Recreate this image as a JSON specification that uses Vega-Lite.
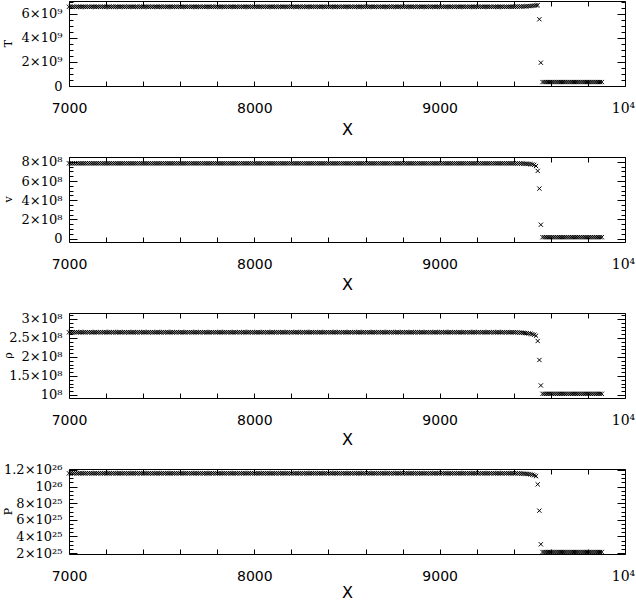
{
"$schema":"https://vega.github.io/schema/vega-lite/v6.json",
"padding":{"left":1,"top":0,"right":0,"bottom":0},
"spacing":71,
"bounds":"flush",
"config":{"view":{"stroke":"black","strokeWidth":1},"axis":{"domain":false,"grid":false,"tickColor":"black","tickWidth":1,"labelColor":"black","titleColor":"black"}},
"data":{"values":[
{"x":7000,"T":6.6e9,"v":7.84e8,"r":2.65e8,"P":1.16e26},{"x":7010,"T":6.6e9,"v":7.84e8,"r":2.65e8,"P":1.16e26},{"x":7020,"T":6.6e9,"v":7.84e8,"r":2.65e8,"P":1.16e26},{"x":7030,"T":6.6e9,"v":7.84e8,"r":2.65e8,"P":1.16e26},{"x":7040,"T":6.6e9,"v":7.84e8,"r":2.65e8,"P":1.16e26},{"x":7050,"T":6.6e9,"v":7.84e8,"r":2.65e8,"P":1.16e26},{"x":7060,"T":6.6e9,"v":7.84e8,"r":2.65e8,"P":1.16e26},{"x":7070,"T":6.6e9,"v":7.84e8,"r":2.65e8,"P":1.16e26},{"x":7080,"T":6.6e9,"v":7.84e8,"r":2.65e8,"P":1.16e26},{"x":7090,"T":6.6e9,"v":7.84e8,"r":2.65e8,"P":1.16e26},
{"x":7100,"T":6.6e9,"v":7.84e8,"r":2.65e8,"P":1.16e26},{"x":7110,"T":6.6e9,"v":7.84e8,"r":2.65e8,"P":1.16e26},{"x":7120,"T":6.6e9,"v":7.84e8,"r":2.65e8,"P":1.16e26},{"x":7130,"T":6.6e9,"v":7.84e8,"r":2.65e8,"P":1.16e26},{"x":7140,"T":6.6e9,"v":7.84e8,"r":2.65e8,"P":1.16e26},{"x":7150,"T":6.6e9,"v":7.84e8,"r":2.65e8,"P":1.16e26},{"x":7160,"T":6.6e9,"v":7.84e8,"r":2.65e8,"P":1.16e26},{"x":7170,"T":6.6e9,"v":7.84e8,"r":2.65e8,"P":1.16e26},{"x":7180,"T":6.6e9,"v":7.84e8,"r":2.65e8,"P":1.16e26},{"x":7190,"T":6.6e9,"v":7.84e8,"r":2.65e8,"P":1.16e26},
{"x":7200,"T":6.6e9,"v":7.84e8,"r":2.65e8,"P":1.16e26},{"x":7210,"T":6.6e9,"v":7.84e8,"r":2.65e8,"P":1.16e26},{"x":7220,"T":6.6e9,"v":7.84e8,"r":2.65e8,"P":1.16e26},{"x":7230,"T":6.6e9,"v":7.84e8,"r":2.65e8,"P":1.16e26},{"x":7240,"T":6.6e9,"v":7.84e8,"r":2.65e8,"P":1.16e26},{"x":7250,"T":6.6e9,"v":7.84e8,"r":2.65e8,"P":1.16e26},{"x":7260,"T":6.6e9,"v":7.84e8,"r":2.65e8,"P":1.16e26},{"x":7270,"T":6.6e9,"v":7.84e8,"r":2.65e8,"P":1.16e26},{"x":7280,"T":6.6e9,"v":7.84e8,"r":2.65e8,"P":1.16e26},{"x":7290,"T":6.6e9,"v":7.84e8,"r":2.65e8,"P":1.16e26},
{"x":7300,"T":6.6e9,"v":7.84e8,"r":2.65e8,"P":1.16e26},{"x":7310,"T":6.6e9,"v":7.84e8,"r":2.65e8,"P":1.16e26},{"x":7320,"T":6.6e9,"v":7.84e8,"r":2.65e8,"P":1.16e26},{"x":7330,"T":6.6e9,"v":7.84e8,"r":2.65e8,"P":1.16e26},{"x":7340,"T":6.6e9,"v":7.84e8,"r":2.65e8,"P":1.16e26},{"x":7350,"T":6.6e9,"v":7.84e8,"r":2.65e8,"P":1.16e26},{"x":7360,"T":6.6e9,"v":7.84e8,"r":2.65e8,"P":1.16e26},{"x":7370,"T":6.6e9,"v":7.84e8,"r":2.65e8,"P":1.16e26},{"x":7380,"T":6.6e9,"v":7.84e8,"r":2.65e8,"P":1.16e26},{"x":7390,"T":6.6e9,"v":7.84e8,"r":2.65e8,"P":1.16e26},
{"x":7400,"T":6.6e9,"v":7.84e8,"r":2.65e8,"P":1.16e26},{"x":7410,"T":6.6e9,"v":7.84e8,"r":2.65e8,"P":1.16e26},{"x":7420,"T":6.6e9,"v":7.84e8,"r":2.65e8,"P":1.16e26},{"x":7430,"T":6.6e9,"v":7.84e8,"r":2.65e8,"P":1.16e26},{"x":7440,"T":6.6e9,"v":7.84e8,"r":2.65e8,"P":1.16e26},{"x":7450,"T":6.6e9,"v":7.84e8,"r":2.65e8,"P":1.16e26},{"x":7460,"T":6.6e9,"v":7.84e8,"r":2.65e8,"P":1.16e26},{"x":7470,"T":6.6e9,"v":7.84e8,"r":2.65e8,"P":1.16e26},{"x":7480,"T":6.6e9,"v":7.84e8,"r":2.65e8,"P":1.16e26},{"x":7490,"T":6.6e9,"v":7.84e8,"r":2.65e8,"P":1.16e26},
{"x":7500,"T":6.6e9,"v":7.84e8,"r":2.65e8,"P":1.16e26},{"x":7510,"T":6.6e9,"v":7.84e8,"r":2.65e8,"P":1.16e26},{"x":7520,"T":6.6e9,"v":7.84e8,"r":2.65e8,"P":1.16e26},{"x":7530,"T":6.6e9,"v":7.84e8,"r":2.65e8,"P":1.16e26},{"x":7540,"T":6.6e9,"v":7.84e8,"r":2.65e8,"P":1.16e26},{"x":7550,"T":6.6e9,"v":7.84e8,"r":2.65e8,"P":1.16e26},{"x":7560,"T":6.6e9,"v":7.84e8,"r":2.65e8,"P":1.16e26},{"x":7570,"T":6.6e9,"v":7.84e8,"r":2.65e8,"P":1.16e26},{"x":7580,"T":6.6e9,"v":7.84e8,"r":2.65e8,"P":1.16e26},{"x":7590,"T":6.6e9,"v":7.84e8,"r":2.65e8,"P":1.16e26},
{"x":7600,"T":6.6e9,"v":7.84e8,"r":2.65e8,"P":1.16e26},{"x":7610,"T":6.6e9,"v":7.84e8,"r":2.65e8,"P":1.16e26},{"x":7620,"T":6.6e9,"v":7.84e8,"r":2.65e8,"P":1.16e26},{"x":7630,"T":6.6e9,"v":7.84e8,"r":2.65e8,"P":1.16e26},{"x":7640,"T":6.6e9,"v":7.84e8,"r":2.65e8,"P":1.16e26},{"x":7650,"T":6.6e9,"v":7.84e8,"r":2.65e8,"P":1.16e26},{"x":7660,"T":6.6e9,"v":7.84e8,"r":2.65e8,"P":1.16e26},{"x":7670,"T":6.6e9,"v":7.84e8,"r":2.65e8,"P":1.16e26},{"x":7680,"T":6.6e9,"v":7.84e8,"r":2.65e8,"P":1.16e26},{"x":7690,"T":6.6e9,"v":7.84e8,"r":2.65e8,"P":1.16e26},
{"x":7700,"T":6.6e9,"v":7.84e8,"r":2.65e8,"P":1.16e26},{"x":7710,"T":6.6e9,"v":7.84e8,"r":2.65e8,"P":1.16e26},{"x":7720,"T":6.6e9,"v":7.84e8,"r":2.65e8,"P":1.16e26},{"x":7730,"T":6.6e9,"v":7.84e8,"r":2.65e8,"P":1.16e26},{"x":7740,"T":6.6e9,"v":7.84e8,"r":2.65e8,"P":1.16e26},{"x":7750,"T":6.6e9,"v":7.84e8,"r":2.65e8,"P":1.16e26},{"x":7760,"T":6.6e9,"v":7.84e8,"r":2.65e8,"P":1.16e26},{"x":7770,"T":6.6e9,"v":7.84e8,"r":2.65e8,"P":1.16e26},{"x":7780,"T":6.6e9,"v":7.84e8,"r":2.65e8,"P":1.16e26},{"x":7790,"T":6.6e9,"v":7.84e8,"r":2.65e8,"P":1.16e26},
{"x":7800,"T":6.6e9,"v":7.84e8,"r":2.65e8,"P":1.16e26},{"x":7810,"T":6.6e9,"v":7.84e8,"r":2.65e8,"P":1.16e26},{"x":7820,"T":6.6e9,"v":7.84e8,"r":2.65e8,"P":1.16e26},{"x":7830,"T":6.6e9,"v":7.84e8,"r":2.65e8,"P":1.16e26},{"x":7840,"T":6.6e9,"v":7.84e8,"r":2.65e8,"P":1.16e26},{"x":7850,"T":6.6e9,"v":7.84e8,"r":2.65e8,"P":1.16e26},{"x":7860,"T":6.6e9,"v":7.84e8,"r":2.65e8,"P":1.16e26},{"x":7870,"T":6.6e9,"v":7.84e8,"r":2.65e8,"P":1.16e26},{"x":7880,"T":6.6e9,"v":7.84e8,"r":2.65e8,"P":1.16e26},{"x":7890,"T":6.6e9,"v":7.84e8,"r":2.65e8,"P":1.16e26},
{"x":7900,"T":6.6e9,"v":7.84e8,"r":2.65e8,"P":1.16e26},{"x":7910,"T":6.6e9,"v":7.84e8,"r":2.65e8,"P":1.16e26},{"x":7920,"T":6.6e9,"v":7.84e8,"r":2.65e8,"P":1.16e26},{"x":7930,"T":6.6e9,"v":7.84e8,"r":2.65e8,"P":1.16e26},{"x":7940,"T":6.6e9,"v":7.84e8,"r":2.65e8,"P":1.16e26},{"x":7950,"T":6.6e9,"v":7.84e8,"r":2.65e8,"P":1.16e26},{"x":7960,"T":6.6e9,"v":7.84e8,"r":2.65e8,"P":1.16e26},{"x":7970,"T":6.6e9,"v":7.84e8,"r":2.65e8,"P":1.16e26},{"x":7980,"T":6.6e9,"v":7.84e8,"r":2.65e8,"P":1.16e26},{"x":7990,"T":6.6e9,"v":7.84e8,"r":2.65e8,"P":1.16e26},
{"x":8000,"T":6.6e9,"v":7.84e8,"r":2.65e8,"P":1.16e26},{"x":8010,"T":6.6e9,"v":7.84e8,"r":2.65e8,"P":1.16e26},{"x":8020,"T":6.6e9,"v":7.84e8,"r":2.65e8,"P":1.16e26},{"x":8030,"T":6.6e9,"v":7.84e8,"r":2.65e8,"P":1.16e26},{"x":8040,"T":6.6e9,"v":7.84e8,"r":2.65e8,"P":1.16e26},{"x":8050,"T":6.6e9,"v":7.84e8,"r":2.65e8,"P":1.16e26},{"x":8060,"T":6.6e9,"v":7.84e8,"r":2.65e8,"P":1.16e26},{"x":8070,"T":6.6e9,"v":7.84e8,"r":2.65e8,"P":1.16e26},{"x":8080,"T":6.6e9,"v":7.84e8,"r":2.65e8,"P":1.16e26},{"x":8090,"T":6.6e9,"v":7.84e8,"r":2.65e8,"P":1.16e26},
{"x":8100,"T":6.6e9,"v":7.84e8,"r":2.65e8,"P":1.16e26},{"x":8110,"T":6.6e9,"v":7.84e8,"r":2.65e8,"P":1.16e26},{"x":8120,"T":6.6e9,"v":7.84e8,"r":2.65e8,"P":1.16e26},{"x":8130,"T":6.6e9,"v":7.84e8,"r":2.65e8,"P":1.16e26},{"x":8140,"T":6.6e9,"v":7.84e8,"r":2.65e8,"P":1.16e26},{"x":8150,"T":6.6e9,"v":7.84e8,"r":2.65e8,"P":1.16e26},{"x":8160,"T":6.6e9,"v":7.84e8,"r":2.65e8,"P":1.16e26},{"x":8170,"T":6.6e9,"v":7.84e8,"r":2.65e8,"P":1.16e26},{"x":8180,"T":6.6e9,"v":7.84e8,"r":2.65e8,"P":1.16e26},{"x":8190,"T":6.6e9,"v":7.84e8,"r":2.65e8,"P":1.16e26},
{"x":8200,"T":6.6e9,"v":7.84e8,"r":2.65e8,"P":1.16e26},{"x":8210,"T":6.6e9,"v":7.84e8,"r":2.65e8,"P":1.16e26},{"x":8220,"T":6.6e9,"v":7.84e8,"r":2.65e8,"P":1.16e26},{"x":8230,"T":6.6e9,"v":7.84e8,"r":2.65e8,"P":1.16e26},{"x":8240,"T":6.6e9,"v":7.84e8,"r":2.65e8,"P":1.16e26},{"x":8250,"T":6.6e9,"v":7.84e8,"r":2.65e8,"P":1.16e26},{"x":8260,"T":6.6e9,"v":7.84e8,"r":2.65e8,"P":1.16e26},{"x":8270,"T":6.6e9,"v":7.84e8,"r":2.65e8,"P":1.16e26},{"x":8280,"T":6.6e9,"v":7.84e8,"r":2.65e8,"P":1.16e26},{"x":8290,"T":6.6e9,"v":7.84e8,"r":2.65e8,"P":1.16e26},
{"x":8300,"T":6.6e9,"v":7.84e8,"r":2.65e8,"P":1.16e26},{"x":8310,"T":6.6e9,"v":7.84e8,"r":2.65e8,"P":1.16e26},{"x":8320,"T":6.6e9,"v":7.84e8,"r":2.65e8,"P":1.16e26},{"x":8330,"T":6.6e9,"v":7.84e8,"r":2.65e8,"P":1.16e26},{"x":8340,"T":6.6e9,"v":7.84e8,"r":2.65e8,"P":1.16e26},{"x":8350,"T":6.6e9,"v":7.84e8,"r":2.65e8,"P":1.16e26},{"x":8360,"T":6.6e9,"v":7.84e8,"r":2.65e8,"P":1.16e26},{"x":8370,"T":6.6e9,"v":7.84e8,"r":2.65e8,"P":1.16e26},{"x":8380,"T":6.6e9,"v":7.84e8,"r":2.65e8,"P":1.16e26},{"x":8390,"T":6.6e9,"v":7.84e8,"r":2.65e8,"P":1.16e26},
{"x":8400,"T":6.6e9,"v":7.84e8,"r":2.65e8,"P":1.16e26},{"x":8410,"T":6.6e9,"v":7.84e8,"r":2.65e8,"P":1.16e26},{"x":8420,"T":6.6e9,"v":7.84e8,"r":2.65e8,"P":1.16e26},{"x":8430,"T":6.6e9,"v":7.84e8,"r":2.65e8,"P":1.16e26},{"x":8440,"T":6.6e9,"v":7.84e8,"r":2.65e8,"P":1.16e26},{"x":8450,"T":6.6e9,"v":7.84e8,"r":2.65e8,"P":1.16e26},{"x":8460,"T":6.6e9,"v":7.84e8,"r":2.65e8,"P":1.16e26},{"x":8470,"T":6.6e9,"v":7.84e8,"r":2.65e8,"P":1.16e26},{"x":8480,"T":6.6e9,"v":7.84e8,"r":2.65e8,"P":1.16e26},{"x":8490,"T":6.6e9,"v":7.84e8,"r":2.65e8,"P":1.16e26},
{"x":8500,"T":6.6e9,"v":7.84e8,"r":2.65e8,"P":1.16e26},{"x":8510,"T":6.6e9,"v":7.84e8,"r":2.65e8,"P":1.16e26},{"x":8520,"T":6.6e9,"v":7.84e8,"r":2.65e8,"P":1.16e26},{"x":8530,"T":6.6e9,"v":7.84e8,"r":2.65e8,"P":1.16e26},{"x":8540,"T":6.6e9,"v":7.84e8,"r":2.65e8,"P":1.16e26},{"x":8550,"T":6.6e9,"v":7.84e8,"r":2.65e8,"P":1.16e26},{"x":8560,"T":6.6e9,"v":7.84e8,"r":2.65e8,"P":1.16e26},{"x":8570,"T":6.6e9,"v":7.84e8,"r":2.65e8,"P":1.16e26},{"x":8580,"T":6.6e9,"v":7.84e8,"r":2.65e8,"P":1.16e26},{"x":8590,"T":6.6e9,"v":7.84e8,"r":2.65e8,"P":1.16e26},
{"x":8600,"T":6.6e9,"v":7.84e8,"r":2.65e8,"P":1.16e26},{"x":8610,"T":6.6e9,"v":7.84e8,"r":2.65e8,"P":1.16e26},{"x":8620,"T":6.6e9,"v":7.84e8,"r":2.65e8,"P":1.16e26},{"x":8630,"T":6.6e9,"v":7.84e8,"r":2.65e8,"P":1.16e26},{"x":8640,"T":6.6e9,"v":7.84e8,"r":2.65e8,"P":1.16e26},{"x":8650,"T":6.6e9,"v":7.84e8,"r":2.65e8,"P":1.16e26},{"x":8660,"T":6.6e9,"v":7.84e8,"r":2.65e8,"P":1.16e26},{"x":8670,"T":6.6e9,"v":7.84e8,"r":2.65e8,"P":1.16e26},{"x":8680,"T":6.6e9,"v":7.84e8,"r":2.65e8,"P":1.16e26},{"x":8690,"T":6.6e9,"v":7.84e8,"r":2.65e8,"P":1.16e26},
{"x":8700,"T":6.6e9,"v":7.84e8,"r":2.65e8,"P":1.16e26},{"x":8710,"T":6.6e9,"v":7.84e8,"r":2.65e8,"P":1.16e26},{"x":8720,"T":6.6e9,"v":7.84e8,"r":2.65e8,"P":1.16e26},{"x":8730,"T":6.6e9,"v":7.84e8,"r":2.65e8,"P":1.16e26},{"x":8740,"T":6.6e9,"v":7.84e8,"r":2.65e8,"P":1.16e26},{"x":8750,"T":6.6e9,"v":7.84e8,"r":2.65e8,"P":1.16e26},{"x":8760,"T":6.6e9,"v":7.84e8,"r":2.65e8,"P":1.16e26},{"x":8770,"T":6.6e9,"v":7.84e8,"r":2.65e8,"P":1.16e26},{"x":8780,"T":6.6e9,"v":7.84e8,"r":2.65e8,"P":1.16e26},{"x":8790,"T":6.6e9,"v":7.84e8,"r":2.65e8,"P":1.16e26},
{"x":8800,"T":6.6e9,"v":7.84e8,"r":2.65e8,"P":1.16e26},{"x":8810,"T":6.6e9,"v":7.84e8,"r":2.65e8,"P":1.16e26},{"x":8820,"T":6.6e9,"v":7.84e8,"r":2.65e8,"P":1.16e26},{"x":8830,"T":6.6e9,"v":7.84e8,"r":2.65e8,"P":1.16e26},{"x":8840,"T":6.6e9,"v":7.84e8,"r":2.65e8,"P":1.16e26},{"x":8850,"T":6.6e9,"v":7.84e8,"r":2.65e8,"P":1.16e26},{"x":8860,"T":6.6e9,"v":7.84e8,"r":2.65e8,"P":1.16e26},{"x":8870,"T":6.6e9,"v":7.84e8,"r":2.65e8,"P":1.16e26},{"x":8880,"T":6.6e9,"v":7.84e8,"r":2.65e8,"P":1.16e26},{"x":8890,"T":6.6e9,"v":7.84e8,"r":2.65e8,"P":1.16e26},
{"x":8900,"T":6.6e9,"v":7.84e8,"r":2.65e8,"P":1.16e26},{"x":8910,"T":6.6e9,"v":7.84e8,"r":2.65e8,"P":1.16e26},{"x":8920,"T":6.6e9,"v":7.84e8,"r":2.65e8,"P":1.16e26},{"x":8930,"T":6.6e9,"v":7.84e8,"r":2.65e8,"P":1.16e26},{"x":8940,"T":6.6e9,"v":7.84e8,"r":2.65e8,"P":1.16e26},{"x":8950,"T":6.6e9,"v":7.84e8,"r":2.65e8,"P":1.16e26},{"x":8960,"T":6.6e9,"v":7.84e8,"r":2.65e8,"P":1.16e26},{"x":8970,"T":6.6e9,"v":7.84e8,"r":2.65e8,"P":1.16e26},{"x":8980,"T":6.6e9,"v":7.84e8,"r":2.65e8,"P":1.16e26},{"x":8990,"T":6.6e9,"v":7.84e8,"r":2.65e8,"P":1.16e26},
{"x":9000,"T":6.6e9,"v":7.84e8,"r":2.65e8,"P":1.16e26},{"x":9010,"T":6.6e9,"v":7.84e8,"r":2.65e8,"P":1.16e26},{"x":9020,"T":6.6e9,"v":7.84e8,"r":2.65e8,"P":1.16e26},{"x":9030,"T":6.6e9,"v":7.84e8,"r":2.65e8,"P":1.16e26},{"x":9040,"T":6.6e9,"v":7.84e8,"r":2.65e8,"P":1.16e26},{"x":9050,"T":6.6e9,"v":7.84e8,"r":2.65e8,"P":1.16e26},{"x":9060,"T":6.6e9,"v":7.84e8,"r":2.65e8,"P":1.16e26},{"x":9070,"T":6.6e9,"v":7.84e8,"r":2.65e8,"P":1.16e26},{"x":9080,"T":6.6e9,"v":7.84e8,"r":2.65e8,"P":1.16e26},{"x":9090,"T":6.6e9,"v":7.84e8,"r":2.65e8,"P":1.16e26},
{"x":9100,"T":6.6e9,"v":7.84e8,"r":2.65e8,"P":1.16e26},{"x":9110,"T":6.6e9,"v":7.84e8,"r":2.65e8,"P":1.16e26},{"x":9120,"T":6.6e9,"v":7.84e8,"r":2.65e8,"P":1.16e26},{"x":9130,"T":6.6e9,"v":7.84e8,"r":2.65e8,"P":1.16e26},{"x":9140,"T":6.6e9,"v":7.84e8,"r":2.65e8,"P":1.16e26},{"x":9150,"T":6.6e9,"v":7.84e8,"r":2.65e8,"P":1.16e26},{"x":9160,"T":6.6e9,"v":7.84e8,"r":2.65e8,"P":1.16e26},{"x":9170,"T":6.6e9,"v":7.84e8,"r":2.65e8,"P":1.16e26},{"x":9180,"T":6.6e9,"v":7.84e8,"r":2.65e8,"P":1.16e26},{"x":9190,"T":6.6e9,"v":7.84e8,"r":2.65e8,"P":1.16e26},
{"x":9200,"T":6.6e9,"v":7.84e8,"r":2.65e8,"P":1.16e26},{"x":9210,"T":6.6e9,"v":7.84e8,"r":2.65e8,"P":1.16e26},{"x":9220,"T":6.6e9,"v":7.84e8,"r":2.65e8,"P":1.16e26},{"x":9230,"T":6.6e9,"v":7.84e8,"r":2.65e8,"P":1.16e26},{"x":9240,"T":6.6e9,"v":7.84e8,"r":2.65e8,"P":1.16e26},{"x":9250,"T":6.6e9,"v":7.84e8,"r":2.65e8,"P":1.16e26},{"x":9260,"T":6.6e9,"v":7.84e8,"r":2.65e8,"P":1.16e26},{"x":9270,"T":6.6e9,"v":7.84e8,"r":2.65e8,"P":1.16e26},{"x":9280,"T":6.6e9,"v":7.84e8,"r":2.65e8,"P":1.16e26},{"x":9290,"T":6.6e9,"v":7.84e8,"r":2.65e8,"P":1.16e26},
{"x":9300,"T":6.6e9,"v":7.84e8,"r":2.65e8,"P":1.16e26},{"x":9310,"T":6.6e9,"v":7.84e8,"r":2.65e8,"P":1.16e26},{"x":9320,"T":6.6e9,"v":7.84e8,"r":2.65e8,"P":1.16e26},{"x":9330,"T":6.6e9,"v":7.84e8,"r":2.65e8,"P":1.16e26},{"x":9340,"T":6.6e9,"v":7.84e8,"r":2.65e8,"P":1.16e26},{"x":9350,"T":6.6e9,"v":7.84e8,"r":2.65e8,"P":1.16e26},{"x":9360,"T":6.6e9,"v":7.84e8,"r":2.65e8,"P":1.16e26},{"x":9370,"T":6.6e9,"v":7.84e8,"r":2.65e8,"P":1.16e26},{"x":9380,"T":6.6e9,"v":7.84e8,"r":2.65e8,"P":1.16e26},{"x":9390,"T":6.6e9,"v":7.84e8,"r":2.65e8,"P":1.16e26},
{"x":9400,"T":6.6e9,"v":7.84e8,"r":2.65e8,"P":1.16e26},
{"x":9410,"T":6.61e9,"v":7.83e8,"r":2.65e8,"P":1.16e26},
{"x":9420,"T":6.61e9,"v":7.83e8,"r":2.645e8,"P":1.159e26},
{"x":9430,"T":6.62e9,"v":7.82e8,"r":2.64e8,"P":1.158e26},
{"x":9440,"T":6.62e9,"v":7.82e8,"r":2.64e8,"P":1.157e26},
{"x":9450,"T":6.63e9,"v":7.81e8,"r":2.635e8,"P":1.156e26},
{"x":9460,"T":6.63e9,"v":7.80e8,"r":2.63e8,"P":1.155e26},
{"x":9470,"T":6.64e9,"v":7.79e8,"r":2.625e8,"P":1.153e26},
{"x":9480,"T":6.65e9,"v":7.78e8,"r":2.62e8,"P":1.151e26},
{"x":9490,"T":6.66e9,"v":7.76e8,"r":2.61e8,"P":1.148e26},
{"x":9500,"T":6.68e9,"v":7.73e8,"r":2.60e8,"P":1.143e26},
{"x":9510,"T":6.70e9,"v":7.68e8,"r":2.585e8,"P":1.136e26},
{"x":9520,"T":6.72e9,"v":7.56e8,"r":2.56e8,"P":1.126e26},
{"x":9529,"T":6.73e9,"v":7.05e8,"r":2.42e8,"P":1.027e26},
{"x":9538,"T":5.56e9,"v":5.21e8,"r":1.92e8,"P":7.1e25},
{"x":9546,"T":1.94e9,"v":1.45e8,"r":1.25e8,"P":3.05e25},
{"x":9555,"T":3.3e8,"v":1.5e7,"r":1.03e8,"P":2.12e25},{"x":9565,"T":3.3e8,"v":1.5e7,"r":1.03e8,"P":2.12e25},{"x":9575,"T":3.3e8,"v":1.5e7,"r":1.03e8,"P":2.12e25},{"x":9585,"T":3.3e8,"v":1.5e7,"r":1.03e8,"P":2.12e25},{"x":9595,"T":3.3e8,"v":1.5e7,"r":1.03e8,"P":2.12e25},
{"x":9605,"T":3.3e8,"v":1.5e7,"r":1.03e8,"P":2.12e25},{"x":9615,"T":3.3e8,"v":1.5e7,"r":1.03e8,"P":2.12e25},{"x":9625,"T":3.3e8,"v":1.5e7,"r":1.03e8,"P":2.12e25},{"x":9635,"T":3.3e8,"v":1.5e7,"r":1.03e8,"P":2.12e25},{"x":9645,"T":3.3e8,"v":1.5e7,"r":1.03e8,"P":2.12e25},
{"x":9655,"T":3.3e8,"v":1.5e7,"r":1.03e8,"P":2.12e25},{"x":9665,"T":3.3e8,"v":1.5e7,"r":1.03e8,"P":2.12e25},{"x":9675,"T":3.3e8,"v":1.5e7,"r":1.03e8,"P":2.12e25},{"x":9685,"T":3.3e8,"v":1.5e7,"r":1.03e8,"P":2.12e25},{"x":9695,"T":3.3e8,"v":1.5e7,"r":1.03e8,"P":2.12e25},
{"x":9705,"T":3.3e8,"v":1.5e7,"r":1.03e8,"P":2.12e25},{"x":9715,"T":3.3e8,"v":1.5e7,"r":1.03e8,"P":2.12e25},{"x":9725,"T":3.3e8,"v":1.5e7,"r":1.03e8,"P":2.12e25},{"x":9735,"T":3.3e8,"v":1.5e7,"r":1.03e8,"P":2.12e25},{"x":9745,"T":3.3e8,"v":1.5e7,"r":1.03e8,"P":2.12e25},
{"x":9755,"T":3.3e8,"v":1.5e7,"r":1.03e8,"P":2.12e25},{"x":9765,"T":3.3e8,"v":1.5e7,"r":1.03e8,"P":2.12e25},{"x":9775,"T":3.3e8,"v":1.5e7,"r":1.03e8,"P":2.12e25},{"x":9785,"T":3.3e8,"v":1.5e7,"r":1.03e8,"P":2.12e25},{"x":9795,"T":3.3e8,"v":1.5e7,"r":1.03e8,"P":2.12e25},
{"x":9805,"T":3.3e8,"v":1.5e7,"r":1.03e8,"P":2.12e25},{"x":9815,"T":3.3e8,"v":1.5e7,"r":1.03e8,"P":2.12e25},{"x":9825,"T":3.3e8,"v":1.5e7,"r":1.03e8,"P":2.12e25},{"x":9835,"T":3.3e8,"v":1.5e7,"r":1.03e8,"P":2.12e25},{"x":9845,"T":3.3e8,"v":1.5e7,"r":1.03e8,"P":2.12e25},
{"x":9855,"T":3.3e8,"v":1.5e7,"r":1.03e8,"P":2.12e25},{"x":9865,"T":3.3e8,"v":1.5e7,"r":1.03e8,"P":2.12e25},{"x":9875,"T":3.3e8,"v":1.5e7,"r":1.03e8,"P":2.12e25}
]},
"vconcat":[
{"width":556,"height":85,"resolve":{"axis":{"x":"independent","y":"independent"}},"layer":[
 {"mark":{"type":"point","shape":"M-1,-1L1,1M-1,1L1,-1","filled":false,"stroke":"black","strokeWidth":1,"size":18,"opacity":1},
  "encoding":{
   "x":{"field":"x","type":"quantitative","scale":{"domain":[7000,10000],"nice":false,"zero":false},"axis":{"orient":"bottom","values":[7000,7200,7400,7600,7800,8000,8200,8400,8600,8800,9000,9200,9400,9600,9800,10000],"tickSize":-5,"labelFlush":false,"labelOverlap":false,"labelPadding":20,"labelOffset":{"condition":{"test":"datum.value == 10000","value":-2},"value":0},"labelExpr":"datum.value == 10000 ? '10⁴' : (datum.value % 1000 == 0 ? format(datum.value, 'd') : '')","labelFont":{"condition":{"test":"datum.value == 10000","value":"DejaVu Serif"},"value":"DejaVu Sans"},"labelFontSize":14,"title":"X","titleFont":"DejaVu Sans","titleFontSize":16,"titleFontWeight":"normal","titlePadding":6}},
   "y":{"field":"T","type":"quantitative","scale":{"domain":[0,7.08e9],"nice":false,"zero":false},"axis":{"orient":"left","values":[0,2e9,4e9,6e9],"tickSize":-8,"labelPadding":15,"labelExpr":"datum.value == 0 ? '0' : round(datum.value/1e9) + '×10⁹'","labelFont":"DejaVu Serif","labelFontSize":13,"title":"T","titleFont":"DejaVu Serif","titleFontSize":11,"titleFontWeight":"normal","titleAngle":-90,"titleX":-58,"titleY":42,"titleAlign":"center","titleBaseline":"alphabetic"}}}},
 {"mark":{"type":"point","opacity":0},
  "encoding":{
   "x":{"field":"x","type":"quantitative","scale":{"domain":[7000,10000],"nice":false,"zero":false},"axis":{"orient":"top","values":[7000,7200,7400,7600,7800,8000,8200,8400,8600,8800,9000,9200,9400,9600,9800,10000],"tickSize":-5,"labels":false,"title":null}},
   "y":{"field":"T","type":"quantitative","scale":{"domain":[0,7.08e9],"nice":false,"zero":false},"axis":{"orient":"left","values":[0,5e8,1e9,1.5e9,2e9,2.5e9,3e9,3.5e9,4e9,4.5e9,5e9,5.5e9,6e9,6.5e9,7e9],"tickSize":-4,"labels":false,"title":null}}}},
 {"mark":{"type":"point","opacity":0},
  "encoding":{
   "x":{"field":"x","type":"quantitative","scale":{"domain":[7000,10000],"nice":false,"zero":false},"axis":null},
   "y":{"field":"T","type":"quantitative","scale":{"domain":[0,7.08e9],"nice":false,"zero":false},"axis":{"orient":"right","values":[0,2e9,4e9,6e9],"tickSize":-8,"labels":false,"title":null}}}},
 {"mark":{"type":"point","opacity":0},
  "encoding":{
   "x":{"field":"x","type":"quantitative","scale":{"domain":[7000,10000],"nice":false,"zero":false},"axis":null},
   "y":{"field":"T","type":"quantitative","scale":{"domain":[0,7.08e9],"nice":false,"zero":false},"axis":{"orient":"right","values":[0,5e8,1e9,1.5e9,2e9,2.5e9,3e9,3.5e9,4e9,4.5e9,5e9,5.5e9,6e9,6.5e9,7e9],"tickSize":-4,"labels":false,"title":null}}}}
]},
{"width":556,"height":85,"resolve":{"axis":{"x":"independent","y":"independent"}},"layer":[
 {"mark":{"type":"point","shape":"M-1,-1L1,1M-1,1L1,-1","filled":false,"stroke":"black","strokeWidth":1,"size":18,"opacity":1},
  "encoding":{
   "x":{"field":"x","type":"quantitative","scale":{"domain":[7000,10000],"nice":false,"zero":false},"axis":{"orient":"bottom","values":[7000,7200,7400,7600,7800,8000,8200,8400,8600,8800,9000,9200,9400,9600,9800,10000],"tickSize":-5,"labelFlush":false,"labelOverlap":false,"labelPadding":20,"labelOffset":{"condition":{"test":"datum.value == 10000","value":-2},"value":0},"labelExpr":"datum.value == 10000 ? '10⁴' : (datum.value % 1000 == 0 ? format(datum.value, 'd') : '')","labelFont":{"condition":{"test":"datum.value == 10000","value":"DejaVu Serif"},"value":"DejaVu Sans"},"labelFontSize":14,"title":"X","titleFont":"DejaVu Sans","titleFontSize":16,"titleFontWeight":"normal","titlePadding":5}},
   "y":{"field":"v","type":"quantitative","scale":{"domain":[-3.5e7,8.5e8],"nice":false,"zero":false},"axis":{"orient":"left","values":[0,2e8,4e8,6e8,8e8],"tickSize":-8,"labelPadding":15,"labelExpr":"datum.value == 0 ? '0' : round(datum.value/1e8) + '×10⁸'","labelFont":"DejaVu Serif","labelFontSize":13,"title":"v","titleFont":"DejaVu Serif","titleFontSize":11,"titleFontWeight":"normal","titleAngle":-90,"titleX":-58,"titleY":42,"titleAlign":"center","titleBaseline":"alphabetic"}}}},
 {"mark":{"type":"point","opacity":0},
  "encoding":{
   "x":{"field":"x","type":"quantitative","scale":{"domain":[7000,10000],"nice":false,"zero":false},"axis":{"orient":"top","values":[7000,7200,7400,7600,7800,8000,8200,8400,8600,8800,9000,9200,9400,9600,9800,10000],"tickSize":-5,"labels":false,"title":null}},
   "y":{"field":"v","type":"quantitative","scale":{"domain":[-3.5e7,8.5e8],"nice":false,"zero":false},"axis":{"orient":"left","values":[0,5e7,1e8,1.5e8,2e8,2.5e8,3e8,3.5e8,4e8,4.5e8,5e8,5.5e8,6e8,6.5e8,7e8,7.5e8,8e8,8.5e8],"tickSize":-4,"labels":false,"title":null}}}},
 {"mark":{"type":"point","opacity":0},
  "encoding":{
   "x":{"field":"x","type":"quantitative","scale":{"domain":[7000,10000],"nice":false,"zero":false},"axis":null},
   "y":{"field":"v","type":"quantitative","scale":{"domain":[-3.5e7,8.5e8],"nice":false,"zero":false},"axis":{"orient":"right","values":[0,2e8,4e8,6e8,8e8],"tickSize":-8,"labels":false,"title":null}}}},
 {"mark":{"type":"point","opacity":0},
  "encoding":{
   "x":{"field":"x","type":"quantitative","scale":{"domain":[7000,10000],"nice":false,"zero":false},"axis":null},
   "y":{"field":"v","type":"quantitative","scale":{"domain":[-3.5e7,8.5e8],"nice":false,"zero":false},"axis":{"orient":"right","values":[0,5e7,1e8,1.5e8,2e8,2.5e8,3e8,3.5e8,4e8,4.5e8,5e8,5.5e8,6e8,6.5e8,7e8,7.5e8,8e8,8.5e8],"tickSize":-4,"labels":false,"title":null}}}}
]},
{"width":556,"height":85,"resolve":{"axis":{"x":"independent","y":"independent"}},"layer":[
 {"mark":{"type":"point","shape":"M-1,-1L1,1M-1,1L1,-1","filled":false,"stroke":"black","strokeWidth":1,"size":18,"opacity":1},
  "encoding":{
   "x":{"field":"x","type":"quantitative","scale":{"domain":[7000,10000],"nice":false,"zero":false},"axis":{"orient":"bottom","values":[7000,7200,7400,7600,7800,8000,8200,8400,8600,8800,9000,9200,9400,9600,9800,10000],"tickSize":-5,"labelFlush":false,"labelOverlap":false,"labelPadding":20,"labelOffset":{"condition":{"test":"datum.value == 10000","value":-2},"value":0},"labelExpr":"datum.value == 10000 ? '10⁴' : (datum.value % 1000 == 0 ? format(datum.value, 'd') : '')","labelFont":{"condition":{"test":"datum.value == 10000","value":"DejaVu Serif"},"value":"DejaVu Sans"},"labelFontSize":14,"title":"X","titleFont":"DejaVu Sans","titleFontSize":16,"titleFontWeight":"normal","titlePadding":4}},
   "y":{"field":"r","type":"quantitative","scale":{"domain":[0.92e8,3.157e8],"nice":false,"zero":false},"axis":{"orient":"left","values":[1e8,1.5e8,2e8,2.5e8,3e8],"tickSize":-8,"labelPadding":15,"labelExpr":"datum.value == 1e8 ? '10⁸' : (datum.value/1e8) + '×10⁸'","labelFont":"DejaVu Serif","labelFontSize":13,"title":"ρ","titleFont":"DejaVu Serif","titleFontSize":11,"titleFontWeight":"normal","titleAngle":-90,"titleX":-58,"titleY":42,"titleAlign":"center","titleBaseline":"alphabetic"}}}},
 {"mark":{"type":"point","opacity":0},
  "encoding":{
   "x":{"field":"x","type":"quantitative","scale":{"domain":[7000,10000],"nice":false,"zero":false},"axis":{"orient":"top","values":[7000,7200,7400,7600,7800,8000,8200,8400,8600,8800,9000,9200,9400,9600,9800,10000],"tickSize":-5,"labels":false,"title":null}},
   "y":{"field":"r","type":"quantitative","scale":{"domain":[0.92e8,3.157e8],"nice":false,"zero":false},"axis":{"orient":"left","values":[1e8,1.1e8,1.2e8,1.3e8,1.4e8,1.5e8,1.6e8,1.7e8,1.8e8,1.9e8,2e8,2.1e8,2.2e8,2.3e8,2.4e8,2.5e8,2.6e8,2.7e8,2.8e8,2.9e8,3e8,3.1e8],"tickSize":-4,"labels":false,"title":null}}}},
 {"mark":{"type":"point","opacity":0},
  "encoding":{
   "x":{"field":"x","type":"quantitative","scale":{"domain":[7000,10000],"nice":false,"zero":false},"axis":null},
   "y":{"field":"r","type":"quantitative","scale":{"domain":[0.92e8,3.157e8],"nice":false,"zero":false},"axis":{"orient":"right","values":[1e8,1.5e8,2e8,2.5e8,3e8],"tickSize":-8,"labels":false,"title":null}}}},
 {"mark":{"type":"point","opacity":0},
  "encoding":{
   "x":{"field":"x","type":"quantitative","scale":{"domain":[7000,10000],"nice":false,"zero":false},"axis":null},
   "y":{"field":"r","type":"quantitative","scale":{"domain":[0.92e8,3.157e8],"nice":false,"zero":false},"axis":{"orient":"right","values":[1e8,1.1e8,1.2e8,1.3e8,1.4e8,1.5e8,1.6e8,1.7e8,1.8e8,1.9e8,2e8,2.1e8,2.2e8,2.3e8,2.4e8,2.5e8,2.6e8,2.7e8,2.8e8,2.9e8,3e8,3.1e8],"tickSize":-4,"labels":false,"title":null}}}}
]},
{"width":556,"height":85,"resolve":{"axis":{"x":"independent","y":"independent"}},"layer":[
 {"mark":{"type":"point","shape":"M-1,-1L1,1M-1,1L1,-1","filled":false,"stroke":"black","strokeWidth":1,"size":18,"opacity":1},
  "encoding":{
   "x":{"field":"x","type":"quantitative","scale":{"domain":[7000,10000],"nice":false,"zero":false},"axis":{"orient":"bottom","values":[7000,7200,7400,7600,7800,8000,8200,8400,8600,8800,9000,9200,9400,9600,9800,10000],"tickSize":-5,"labelFlush":false,"labelOverlap":false,"labelPadding":20,"labelOffset":{"condition":{"test":"datum.value == 10000","value":-2},"value":0},"labelExpr":"datum.value == 10000 ? '10⁴' : (datum.value % 1000 == 0 ? format(datum.value, 'd') : '')","labelFont":{"condition":{"test":"datum.value == 10000","value":"DejaVu Serif"},"value":"DejaVu Sans"},"labelFontSize":14,"title":"X","titleFont":"DejaVu Sans","titleFontSize":16,"titleFontWeight":"normal","titlePadding":1}},
   "y":{"field":"P","type":"quantitative","scale":{"domain":[1.88e25,1.212e26],"nice":false,"zero":false},"axis":{"orient":"left","values":[2e25,4e25,6e25,8e25,1e26,1.2e26],"tickSize":-8,"labelPadding":15,"labelExpr":"datum.value > 1.1e26 ? '1.2×10²⁶' : (datum.value > 9e25 ? '10²⁶' : round(datum.value/1e25) + '×10²⁵')","labelFont":"DejaVu Serif","labelFontSize":13,"title":"P","titleFont":"DejaVu Serif","titleFontSize":11,"titleFontWeight":"normal","titleAngle":-90,"titleX":-58,"titleY":42,"titleAlign":"center","titleBaseline":"alphabetic"}}}},
 {"mark":{"type":"point","opacity":0},
  "encoding":{
   "x":{"field":"x","type":"quantitative","scale":{"domain":[7000,10000],"nice":false,"zero":false},"axis":{"orient":"top","values":[7000,7200,7400,7600,7800,8000,8200,8400,8600,8800,9000,9200,9400,9600,9800,10000],"tickSize":-5,"labels":false,"title":null}},
   "y":{"field":"P","type":"quantitative","scale":{"domain":[1.88e25,1.212e26],"nice":false,"zero":false},"axis":{"orient":"left","values":[2e25,2.5e25,3e25,3.5e25,4e25,4.5e25,5e25,5.5e25,6e25,6.5e25,7e25,7.5e25,8e25,8.5e25,9e25,9.5e25,1e26,1.05e26,1.1e26,1.15e26,1.2e26],"tickSize":-4,"labels":false,"title":null}}}},
 {"mark":{"type":"point","opacity":0},
  "encoding":{
   "x":{"field":"x","type":"quantitative","scale":{"domain":[7000,10000],"nice":false,"zero":false},"axis":null},
   "y":{"field":"P","type":"quantitative","scale":{"domain":[1.88e25,1.212e26],"nice":false,"zero":false},"axis":{"orient":"right","values":[2e25,4e25,6e25,8e25,1e26,1.2e26],"tickSize":-8,"labels":false,"title":null}}}},
 {"mark":{"type":"point","opacity":0},
  "encoding":{
   "x":{"field":"x","type":"quantitative","scale":{"domain":[7000,10000],"nice":false,"zero":false},"axis":null},
   "y":{"field":"P","type":"quantitative","scale":{"domain":[1.88e25,1.212e26],"nice":false,"zero":false},"axis":{"orient":"right","values":[2e25,2.5e25,3e25,3.5e25,4e25,4.5e25,5e25,5.5e25,6e25,6.5e25,7e25,7.5e25,8e25,8.5e25,9e25,9.5e25,1e26,1.05e26,1.1e26,1.15e26,1.2e26],"tickSize":-4,"labels":false,"title":null}}}}
]}
]
}
